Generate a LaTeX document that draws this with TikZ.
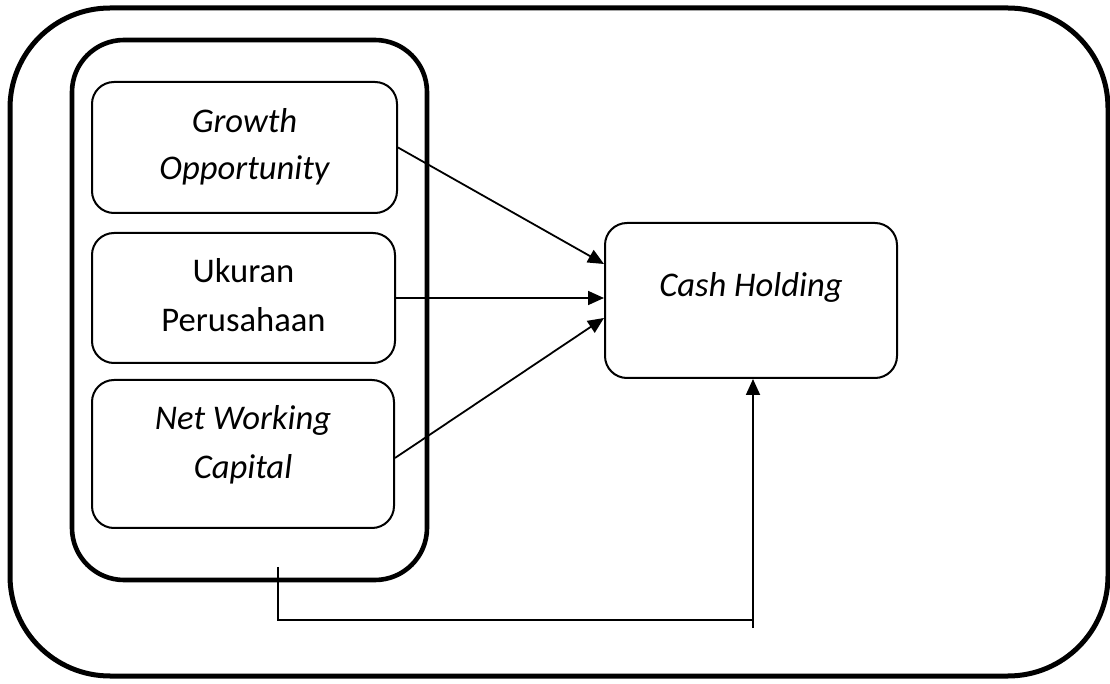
\documentclass[tikz,border=0pt]{standalone}
\usepackage{fontspec}
\setmainfont{Carlito}
\usetikzlibrary{arrows.meta}
\begin{document}
\begin{tikzpicture}[x=0.5pt,y=-0.5pt,
  bigframe/.style={draw, line width=2.5pt, rounded corners=50pt, inner sep=0pt},
  groupframe/.style={draw, line width=2.3pt, rounded corners=26pt, inner sep=0pt},
  varbox/.style={draw, line width=1pt, rounded corners=11pt, inner sep=0pt},
  lbl/.style={font=\fontsize{17.3pt}{24pt}\selectfont, align=center, inner sep=0pt, anchor=base},
  arr/.style={line width=0.9pt, -{Triangle[length=8pt,width=7pt]}},
  ln/.style={line width=0.9pt}]
\useasboundingbox (0,0) rectangle (1110,684);
% frames
\node[bigframe, minimum width=549pt, minimum height=334pt] (outer) at (559,342) {};
\node[groupframe, minimum width=177.5pt, minimum height=270pt] (group) at (249.5,310) {};
% boxes
\node[varbox, minimum width=152.5pt, minimum height=65.5pt] (growth) at (244.5,147.5) {};
\node[varbox, minimum width=151.5pt, minimum height=65pt] (ukuran) at (243.5,298) {};
\node[varbox, minimum width=151pt, minimum height=74pt] (nwc) at (243,454) {};
\node[varbox, minimum width=146pt, minimum height=77.5pt] (cash) at (751,300.5) {};
% labels
\node[lbl] (tg1) at (244.5,133) {\itshape Growth};
\node[lbl] (tg2) at (244.5,180) {\itshape Opportunity};
\node[lbl] (tu1) at (243.5,283) {Ukuran};
\node[lbl] (tu2) at (243.5,332) {Perusahaan};
\node[lbl] (tn1) at (243,430) {\itshape Net Working};
\node[lbl] (tn2) at (243,479) {\itshape Capital};
\node[lbl] (tc) at (751,297) {\itshape Cash Holding};
% arrows
\draw[arr] (growth.east) -- (cash.west |- 0,264);
\draw[arr] (ukuran.east) -- (cash.west |- 0,298);
\draw[arr] (nwc.east |- 0,458) -- (cash.west |- 0,318);
% bottom connector
\coordinate (s) at (278,567);
\coordinate (c2) at (753,620);
\coordinate (c3) at (753,628);
\draw[ln] (s) |- (c2);
\draw[arr] (c3) -- (c3 |- cash.south);
\end{tikzpicture}
\end{document}
